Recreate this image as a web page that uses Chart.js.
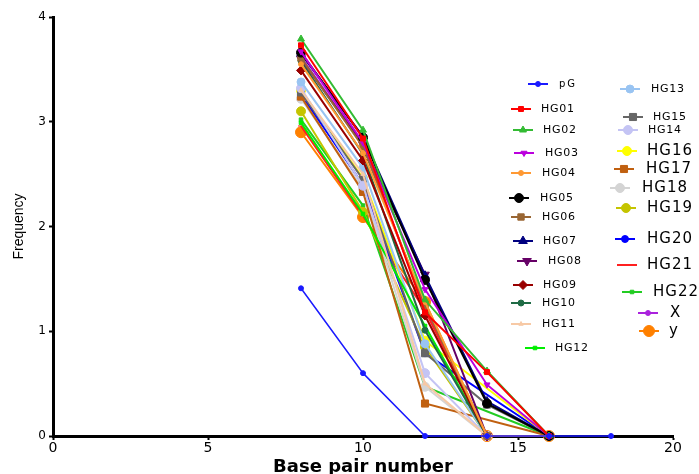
<!DOCTYPE html>
<html>
<head>
<meta charset="utf-8">
<script src="https://cdn.jsdelivr.net/npm/chart.js@4.4.1/dist/chart.umd.min.js"></script>
<style>
  html, body { margin: 0; padding: 0; background: #fff; }
  #wrap { width: 699px; height: 474px; }
</style>
</head>
<body>
<div id="wrap"><canvas id="chartCanvas" width="699" height="474"></canvas></div>
<script>
// x positions (base pair number)
const baseX = [8, 10, 12, 14, 16, 18];

// frequency per series (null = no point)
const pG   = [1.41, 0.60, 0,    0,    0, 0];
const HG01 = [3.73, 2.84, 1.18, 0.61, 0, null];
const HG02 = [3.79, 2.92, 1.30, 0.62, 0, null];
const HG03 = [3.67, 2.80, 1.40, 0.49, 0, null];
const HG04 = [3.55, 2.70, 1.28, 0,    0, null];
const HG05 = [3.66, 2.85, 1.49, 0.31, 0, null];
const HG06 = [3.61, 2.76, 1.25, 0,    0, null];
const HG07 = [3.65, 2.86, 1.53, 0.33, 0, null];
const HG08 = [3.60, 2.78, 1.54, 0,    0, null];
const HG09 = [3.49, 2.63, 1.15, 0,    0, null];
const HG10 = [3.58, 2.69, 1.01, 0,    0, null];
const HG11 = [3.30, 2.50, 0.50, 0,    0, null];
const HG12 = [2.99, 2.12, 1.05, 0,    0, null];
const HG13 = [3.38, 2.56, 0.88, 0,    0, null];
const HG14 = [3.32, 2.39, 0.60, 0,    0, null];
const HG15 = [3.28, 2.45, 0.79, 0.30, 0, null];
const HG16 = [3.30, 2.46, 0.91, null, 0, null];
const HG17 = [3.24, 2.33, 0.31, null, 0, null];
const HG18 = [3.22, 2.36, 0.47, 0,    0, null];
const HG19 = [3.10, 2.14, 0.85, 0,    0, null];
const HG20 = [3.26, 2.40, 0.79, null, 0, null];
const HG21 = [2.96, 2.10, 1.20, 0,    0, null];
const HG22 = [3.02, 2.20, 0.47, null, 0, null];
const X    = [3.62, 2.78, 1.22, 0,    0, null];
const y    = [2.90, 2.09, 1.28, 0,    0, null];

const xTicks = [0, 5, 10, 15, 20];
const yTicks = [0, 1, 2, 3, 4];

// name, values, colour, point style, radius, rotation
const series = [
  ['pG',   pG,   '#1a1aff', 'circle',   2.5, 0],
  ['HG01', HG01, '#ff0000', 'rect',     3.5, 0],
  ['HG02', HG02, '#33bb33', 'triangle', 4,   0],
  ['HG03', HG03, '#bb00dd', 'triangle', 3.5, 180],
  ['HG04', HG04, '#ff9933', 'circle',   2.5, 0],
  ['HG05', HG05, '#000000', 'circle',   4.5, 0],
  ['HG06', HG06, '#996633', 'rect',     4.5, 0],
  ['HG07', HG07, '#000080', 'triangle', 5,   0],
  ['HG08', HG08, '#660066', 'triangle', 5,   180],
  ['HG09', HG09, '#990000', 'rectRot',  4.5, 0],
  ['HG10', HG10, '#1f6b45', 'circle',   3,   0],
  ['HG11', HG11, '#f7c9a5', 'triangle', 2.5, 0],
  ['HG12', HG12, '#00ee00', 'rect',     2.5, 0],
  ['HG13', HG13, '#99c4f2', 'circle',   4,   0],
  ['HG14', HG14, '#c4c4f4', 'circle',   4.5, 0],
  ['HG15', HG15, '#666666', 'rect',     5,   0],
  ['HG16', HG16, '#ffff00', 'circle',   4.5, 0],
  ['HG17', HG17, '#c06010', 'rect',     5,   0],
  ['HG18', HG18, '#d4d4d4', 'circle',   4.5, 0],
  ['HG19', HG19, '#c4c400', 'circle',   4.5, 0],
  ['HG20', HG20, '#0000ff', 'circle',   3.5, 0],
  ['HG21', HG21, '#ff2020', 'line',     3,   0],
  ['HG22', HG22, '#22cc22', 'rect',     2.5, 0],
  ['X',    X,    '#aa22dd', 'circle',   2.5, 0],
  ['y',    y,    '#ff8000', 'circle',   5.5, 0]
];

// legend placement: name, line start, line end, y, text x, font size
const legendLayout = [
  ['pG',   528, 548, 84,  559, 10],
  ['HG01', 511, 531, 109, 541, 11],
  ['HG02', 513, 533, 130, 543, 11],
  ['HG03', 514, 534, 153, 545, 11],
  ['HG04', 511, 531, 173, 542, 11],
  ['HG05', 509, 529, 198, 540, 11],
  ['HG06', 511, 531, 217, 542, 11],
  ['HG07', 513, 533, 241, 543, 11],
  ['HG08', 517, 537, 261, 548, 11],
  ['HG09', 513, 533, 285, 543, 11],
  ['HG10', 511, 531, 303, 542, 11],
  ['HG11', 511, 531, 324, 542, 11],
  ['HG12', 525, 545, 348, 555, 11],
  ['HG13', 620, 640, 89,  651, 11],
  ['HG15', 623, 643, 117, 653, 11],
  ['HG14', 618, 638, 130, 648, 11],
  ['HG16', 617, 637, 151, 647, 15],
  ['HG17', 614, 634, 169, 646, 15],
  ['HG18', 610, 630, 188, 642, 15],
  ['HG19', 616, 636, 208, 647, 15],
  ['HG20', 615, 635, 239, 647, 15],
  ['HG21', 617, 637, 265, 647, 15],
  ['HG22', 622, 642, 292, 653, 15],
  ['X',    638, 658, 313, 670, 15],
  ['y',    639, 659, 331, 669, 15]
];

const datasets = series.map(([name, vals, color, style, radius, rot]) => ({
  label: name,
  data: baseX.map((bx, i) => ({ x: bx, y: vals[i] })),
  borderColor: color,
  backgroundColor: color,
  pointBackgroundColor: color,
  pointBorderColor: color,
  pointStyle: style,
  pointRadius: radius,
  pointRotation: rot,
  pointBorderWidth: 1,
  borderWidth: name === 'pG' ? 1.5 : 2,
  tension: 0,
  spanGaps: true,
  clip: false
}));

// hand-placed legend, like the original figure
const legendPlugin = {
  id: 'placedLegend',
  afterDraw(chart) {
    const ctx = chart.ctx;
    ctx.save();
    legendLayout.forEach(([name, x1, x2, ly, tx, size]) => {
      const s = series.find(v => v[0] === name);
      const color = s[2];
      ctx.strokeStyle = color;
      ctx.fillStyle = color;
      ctx.lineWidth = 2;
      ctx.beginPath();
      ctx.moveTo(x1, ly);
      ctx.lineTo(x2, ly);
      ctx.stroke();
      ctx.lineWidth = 1;
      Chart.helpers.drawPoint(ctx, {
        pointStyle: s[3], radius: s[4], rotation: s[5], borderWidth: 1
      }, (x1 + x2) / 2, ly);
      ctx.fillStyle = '#000';
      ctx.font = size + "px 'DejaVu Sans', sans-serif";
      ctx.letterSpacing = name === 'pG' ? '2px' : (size > 12 ? '1px' : '0.7px');
      ctx.textAlign = 'left';
      ctx.textBaseline = 'middle';
      ctx.fillText(name, tx, ly);
    });
    ctx.restore();
  }
};

const ctx = document.getElementById('chartCanvas').getContext('2d');
new Chart(ctx, {
  type: 'line',
  data: { datasets: datasets },
  plugins: [legendPlugin],
  options: {
    responsive: false,
    animation: false,
    devicePixelRatio: 1,
    layout: { padding: { top: 17, right: 26, left: 0, bottom: 0 } },
    plugins: {
      legend: { display: false },
      tooltip: { enabled: false }
    },
    scales: {
      x: {
        type: 'linear',
        min: 0,
        max: 20,
        afterBuildTicks: axis => { axis.ticks = xTicks.map(v => ({ value: v })); },
        afterFit: axis => { axis.height = 38; },
        ticks: {
          color: '#000',
          padding: 0,
          font: { family: "'DejaVu Sans', sans-serif", size: 14 }
        },
        grid: { drawOnChartArea: false, drawTicks: true, tickLength: 4, tickWidth: 2, tickColor: '#000' },
        border: { color: '#000', width: 3 },
        title: {
          display: true,
          text: 'Base pair number',
          color: '#000',
          font: { family: "'DejaVu Sans', sans-serif", size: 18, weight: 'bold', lineHeight: 1 },
          padding: { top: 0, bottom: -2 }
        }
      },
      y: {
        min: 0,
        max: 4,
        afterBuildTicks: axis => { axis.ticks = yTicks.map(v => ({ value: v })); },
        afterFit: axis => { axis.width = 53; },
        ticks: {
          color: '#000',
          padding: 3,
          font: { family: "'DejaVu Sans', sans-serif", size: 12 }
        },
        grid: { drawOnChartArea: false, drawTicks: true, tickLength: 4, tickWidth: 2, tickColor: '#000' },
        border: { color: '#000', width: 3 },
        title: {
          display: true,
          text: 'Frequency',
          color: '#000',
          font: { family: "'Liberation Sans', Arial, sans-serif", size: 14 },
          padding: { top: 11, bottom: 0 }
        }
      }
    }
  }
});
</script>
</body>
</html>
